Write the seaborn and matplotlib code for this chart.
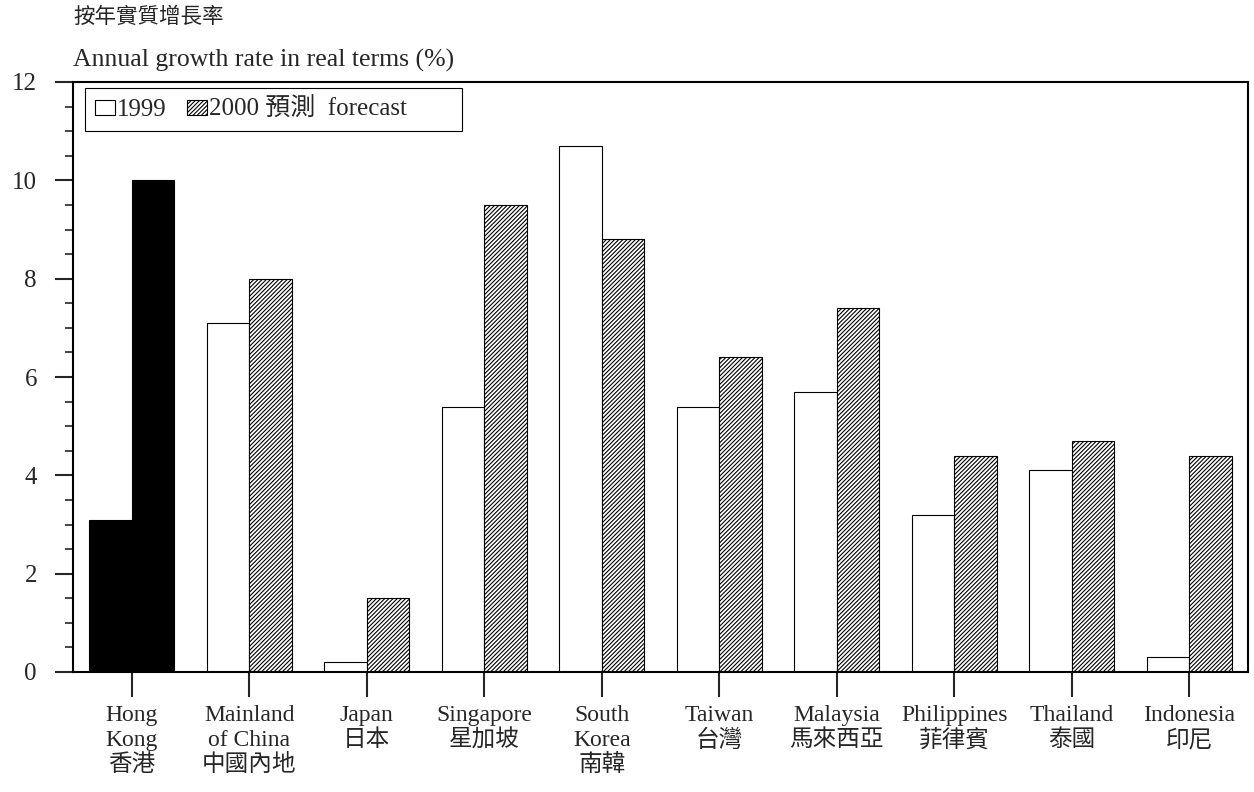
import matplotlib
matplotlib.use("Agg")
import matplotlib.pyplot as plt
from matplotlib.patches import Patch, Rectangle
from matplotlib.ticker import MultipleLocator
import seaborn as sns
import pandas as pd

categories = ["Hong\nKong\n香港", "Mainland\nof China\n中國內地", "Japan\n日本", "Singapore\n星加坡",
              "South\nKorea\n南韓", "Taiwan\n台灣", "Malaysia\n馬來西亞", "Philippines\n菲律賓",
              "Thailand\n泰國", "Indonesia\n印尼"]
growth_1999 = [3.1, 7.1, 0.2, 5.4, 10.7, 5.4, 5.7, 3.2, 4.1, 0.3]
growth_2000 = [10.0, 8.0, 1.5, 9.5, 8.8, 6.4, 7.4, 4.4, 4.7, 4.4]
years = ["1999", "2000"]
legend_labels = ["1999", "2000 預測  forecast"]
title_zh = "按年實質增長率"
title_en = "Annual growth rate in real terms (%)"

sns.set_style("white")
plt.rcParams["font.family"] = ["Liberation Serif", "Noto Sans CJK TC"]
plt.rcParams["hatch.linewidth"] = 0.8

df = pd.DataFrame({
    "region": categories * 2,
    "year": [years[0]] * len(categories) + [years[1]] * len(categories),
    "growth": growth_1999 + growth_2000,
})

fig = plt.figure(figsize=(12.54, 7.92), dpi=100)
ax = fig.add_axes([73 / 1254, 1 - 672 / 792, 1175 / 1254, 590 / 792])

sns.barplot(data=df, x="region", y="growth", hue="year", hue_order=years,
            order=categories, width=0.72, gap=0, legend=False, ax=ax,
            palette=["white", "white"], saturation=1, errorbar=None)

HATCH = "////////"
for ci, cont in enumerate(ax.containers):
    for bi, bar in enumerate(cont):
        bar.set_edgecolor("black")
        bar.set_linewidth(0.8)
        if ci == 1:
            bar.set_hatch(HATCH)
        if bi == 0:
            bar.set_facecolor("black")

ax.set_xlim(-0.5, len(categories) - 0.5)
ax.set_ylim(0, 12)
ax.yaxis.set_major_locator(MultipleLocator(2))
ax.yaxis.set_minor_locator(MultipleLocator(0.5))
ax.set_xlabel("")
ax.set_ylabel("")

for sp in ax.spines.values():
    sp.set_visible(True)
    sp.set_color("black")
    sp.set_linewidth(1.5)

ax.tick_params(axis="y", which="major", direction="out", length=13, width=1.5,
               labelsize=18, pad=13, left=True)
ax.tick_params(axis="y", which="minor", direction="out", length=6, width=1.2, left=True)
ax.tick_params(axis="x", which="major", direction="out", length=18, width=1.5,
               labelsize=17, pad=6, bottom=True)
for lab in ax.get_xticklabels():
    lab.set_multialignment("center")
    lab.set_linespacing(1.2)

handles = [Patch(facecolor="white", edgecolor="black", linewidth=0.8),
           Patch(facecolor="white", edgecolor="black", linewidth=0.8, hatch=HATCH)]
leg = ax.legend(handles, legend_labels, ncol=2, loc="upper left",
                bbox_to_anchor=(0.010, 0.99), fontsize=18, frameon=False,
                handlelength=0.8, handleheight=0.55, handletextpad=0.1,
                columnspacing=0.8, borderpad=0.4, borderaxespad=0)

# legend frame with extra blank space on the right, as in the reference
fig.canvas.draw()
bb = leg.get_window_extent()
W, H = fig.bbox.width, fig.bbox.height
frame = Rectangle((bb.x0 / W, bb.y0 / H), (bb.width + 45) / W, bb.height / H,
                  transform=fig.transFigure, facecolor="none", edgecolor="black",
                  linewidth=0.8, zorder=6)
fig.add_artist(frame)

fig.text(73 / 1254, 1 - 18 / 792, title_zh, fontsize=15.5, va="center", ha="left")
fig.text(73 / 1254, 1 - 60 / 792, title_en, fontsize=18.5, va="center", ha="left")

fig.savefig("out.png", dpi=100)
